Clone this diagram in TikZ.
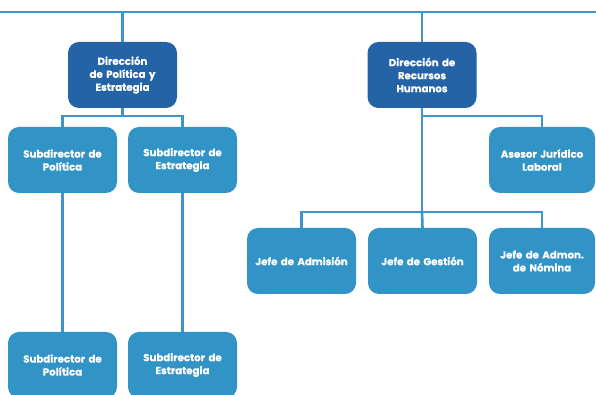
\documentclass[tikz,border=0pt]{standalone}
\usepackage{fontspec}
\setmainfont{Poppins}[BoldFont={* Bold},BoldFeatures={FakeBold=0.6}]
\definecolor{darkbox}{HTML}{2463A6}
\definecolor{lightbox}{HTML}{3193C6}
\definecolor{linec}{HTML}{3D95CB}
\begin{document}
\begin{tikzpicture}[x=1pt,y=1pt,
  box/.style={rectangle,rounded corners=11pt,minimum height=66pt,text=white,
    font=\fontsize{10.2pt}{13pt}\selectfont\bfseries,align=center,inner sep=0pt},
  darkb/.style={box,fill=darkbox,minimum width=109pt,text width=104pt},
  lightb/.style={box,fill=lightbox,minimum width=109pt,text width=106pt},
  conn/.style={draw=linec,line width=2.6pt}]
\useasboundingbox (0,0) rectangle (596,395);
\clip (0,0) rectangle (596,395);
\fill[white] (0,0) rectangle (596,395);
% boxes
\node[darkb] (dp) at (122.5,320) {Dirección\\de Política y\\Estrategia};
\node[darkb] (drh) at (422,320) {Dirección de\\Recursos\\Humanos};
\node[lightb] (sp1) at (62.5,235) {Subdirector de\\Política};
\node[lightb] (se1) at (182.5,235) {Subdirector de\\Estrategia};
\node[lightb,minimum width=106pt] (as) at (542,235) {Asesor Jurídico\\Laboral};
\node[lightb] (ja) at (301.5,134) {Jefe de Admisión};
\node[lightb] (jg) at (422.5,134) {Jefe de Gestión};
\node[lightb,minimum width=106pt] (jn) at (542,134) {Jefe de Admon.\\de Nómina};
\node[lightb] (sp2) at (62.5,30) {Subdirector de\\Política};
\node[lightb] (se2) at (182.5,30) {Subdirector de\\Estrategia};
% coordinates
\coordinate (tl) at (0,383);
\coordinate (tr) at (596,383);
\coordinate (b1) at (122.5,279);
\coordinate (b2) at (422,279);
\coordinate (b3) at (422,183);
% connectors
\draw[conn] (tl) -- (tr);
\draw[conn] (dp.north |- tl) -- (dp.north);
\draw[conn] (drh.north |- tl) -- (drh.north);
\draw[conn] (dp.south) -- (b1);
\draw[conn] (sp1.north) -- (sp1.north |- b1) -- (se1.north |- b1) -- (se1.north);
\draw[conn] (drh.south) -- (b3);
\draw[conn] (b2) -- (b2 -| as.north) -- (as.north);
\draw[conn] (ja.north) -- (ja.north |- b3) -- (jn.north |- b3) -- (jn.north);
\draw[conn] (b3) -- (jg.north);
\draw[conn] (sp1.south) -- (sp2.north);
\draw[conn] (se1.south) -- (se2.north);
\end{tikzpicture}
\end{document}
